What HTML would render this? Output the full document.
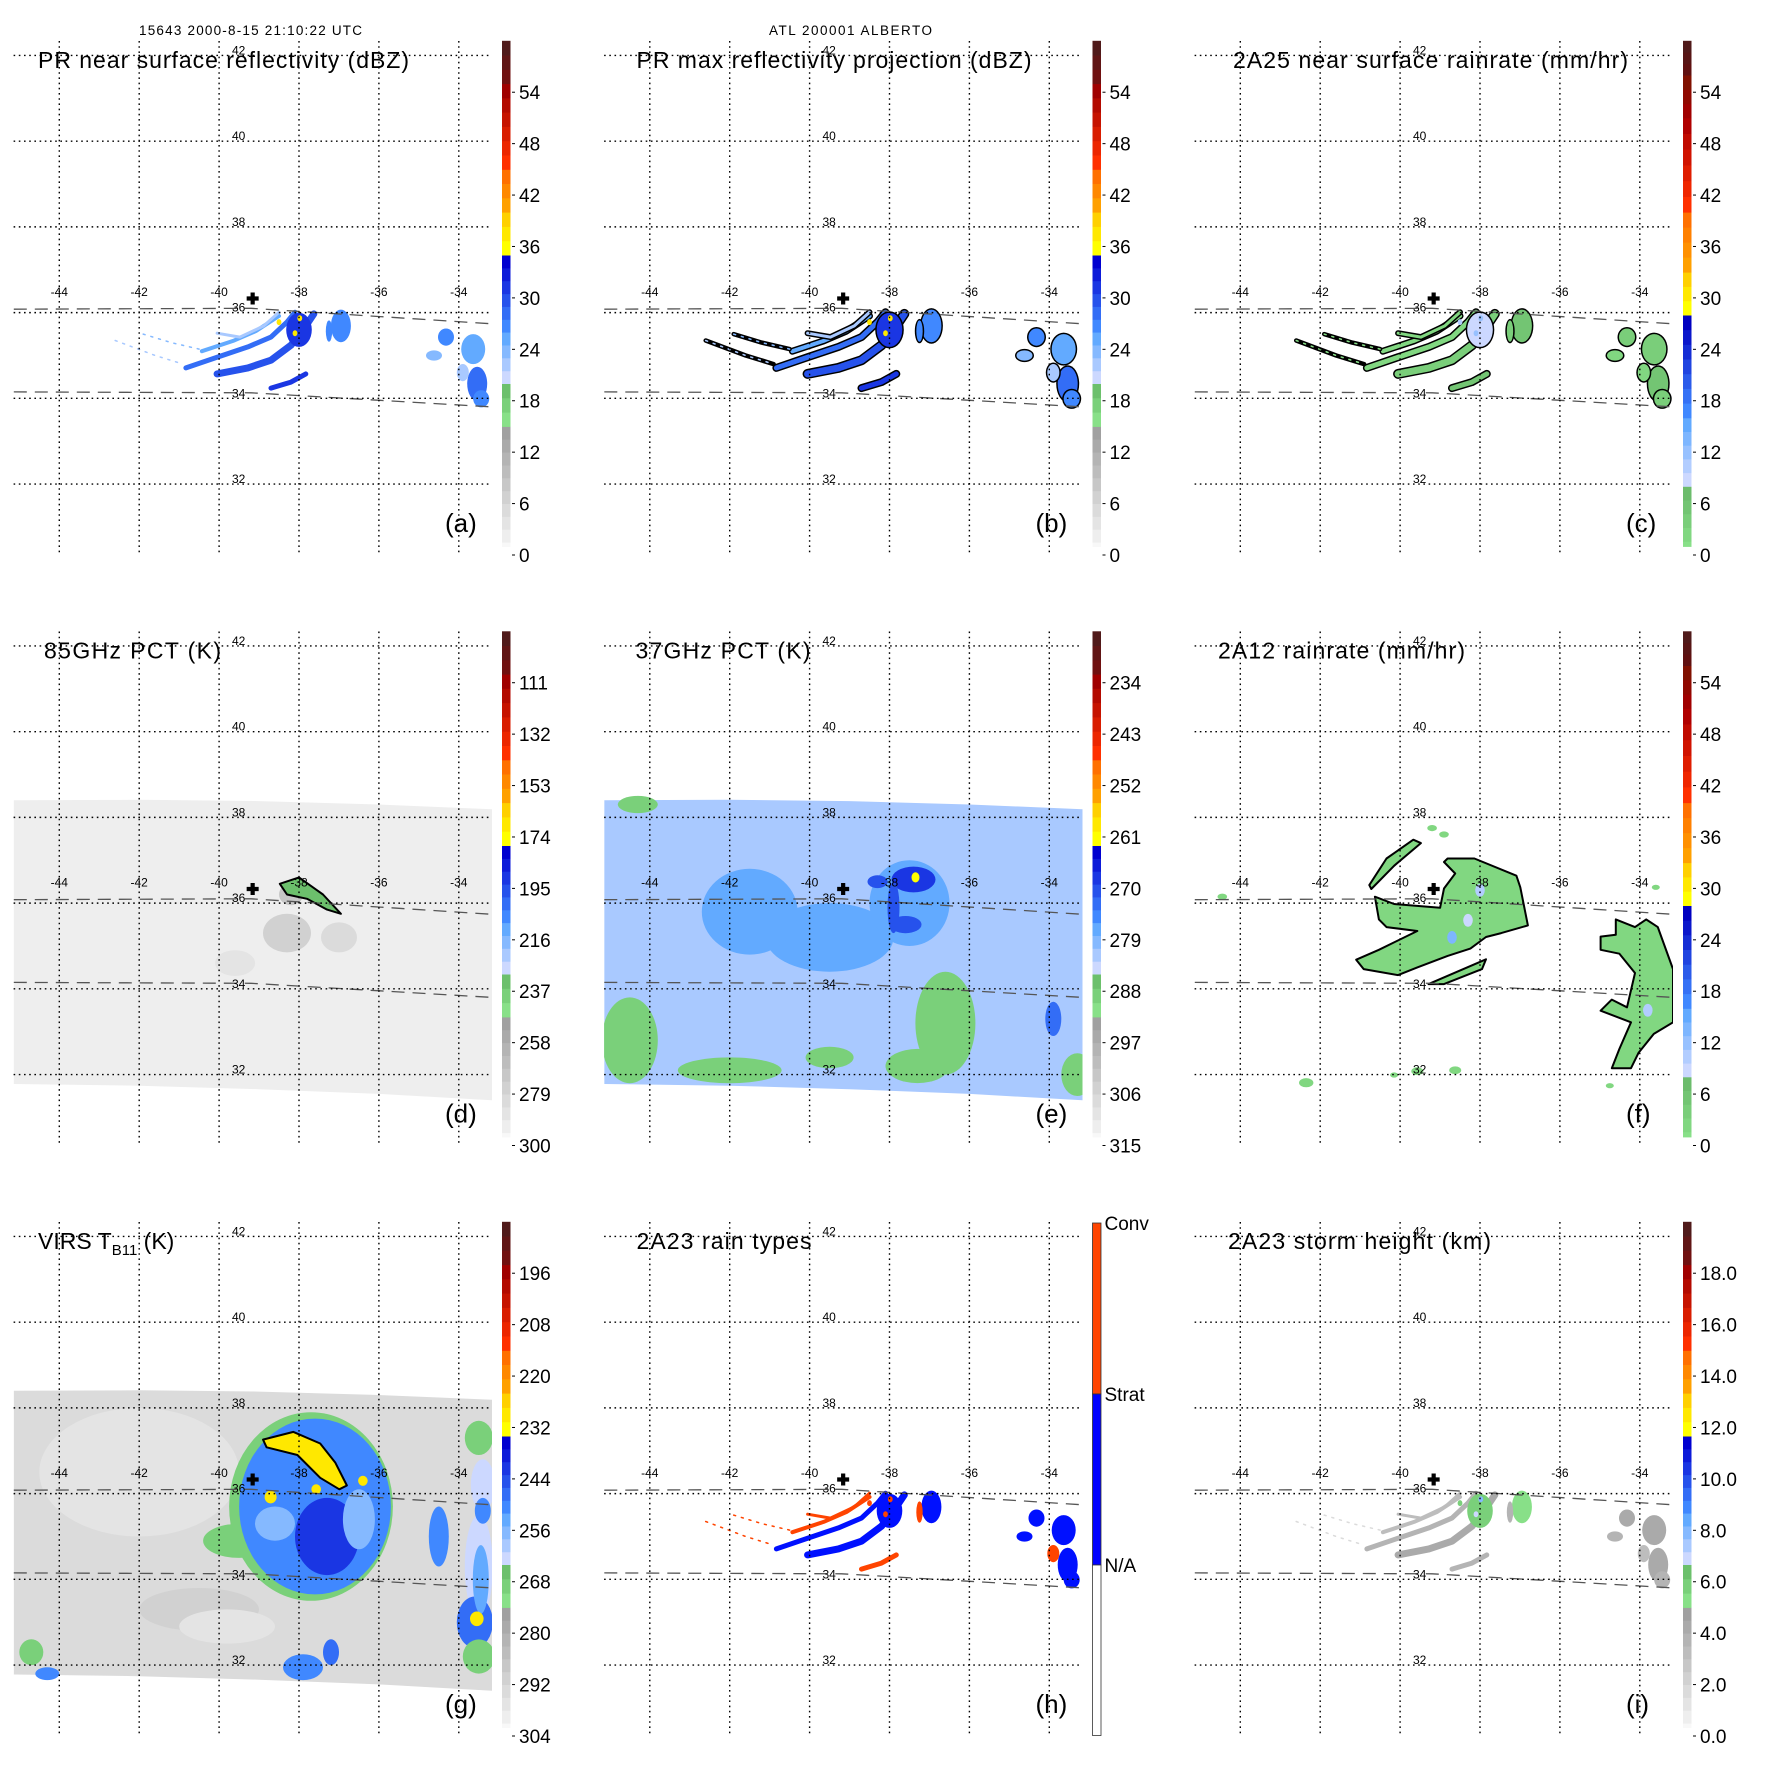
<!DOCTYPE html>
<html><head><meta charset="utf-8"><style>
html,body{margin:0;padding:0;background:#fff}
svg{display:block;font-family:"Liberation Sans",Arial,sans-serif}
</style></head><body>
<svg id="fig" xmlns="http://www.w3.org/2000/svg" width="1771" height="1771" viewBox="0 0 1771 1771">
<rect width="1771" height="1771" fill="#fff"/>
<text x="139" y="35" font-size="13.5" textLength="223">15643 2000-8-15 21:10:22 UTC</text>
<text x="769" y="35" font-size="13.5" textLength="163">ATL 200001 ALBERTO</text>
</svg>
<script>
// ---------- grid / axis data ----------
const lonTicks=[-44,-42,-40,-38,-36,-34];
const latTicks=[42,40,38,36,34,32];
const centerLon=-39.16, centerLat=36.33;
const prSwLon=[-45.14,-39.2,-33.17];
const prSwTop=[36.08,36.10,35.74];
const prSwBot=[34.15,34.13,33.80];
const tmSwLon=[-45.14,-42,-39,-36,-33.17];
const tmSwTop=[38.40,38.41,38.38,38.30,38.19];
const tmSwBot=[31.78,31.74,31.66,31.55,31.40];

// ---------- PR spiral bands (shared geometry for a,b,c,h,i) ----------
const bandLon=[[-38.70,-38.20,-37.83],[-40.05,-39.28,-38.70,-38.20,-37.83,-37.63],[-40.83,-40.05,-39.28,-38.70,-38.30,-38.10],[-40.43,-39.65,-39.08,-38.50],[-40.05,-39.48,-38.88,-38.50],[-42.6,-41.6,-40.9],[-41.9,-41.2,-40.5]];
const bandLat=[[34.24,34.38,34.57],[34.57,34.71,34.89,35.24,35.69,35.97],[34.71,34.96,35.20,35.43,35.78,36.01],[35.10,35.34,35.57,35.92],[35.52,35.43,35.69,36.01],[35.35,35.0,34.8],[35.5,35.3,35.15]];
const bandW=[5,7,5,4,3,1.5,1.5];
const bandValA=[31,30,28,25,22,22,23];
const bandValC=[5,4,3,3,2,1,1];
const bandValH=[2,1,1,2,2,2,2];
const bandValI=[3.8,4.2,3.8,3.3,3.0,1.5,1.5];
const prBlobLon=[-38.0,-37.98,-38.1,-38.5,-36.95,-37.25,-34.32,-33.64,-33.54,-33.44,-34.62,-33.9];
const prBlobLat=[35.6,35.87,35.52,35.78,35.69,35.57,35.43,35.15,34.34,33.99,35.0,34.6];
const prBlobRx=[0.32,0.06,0.06,0.06,0.25,0.08,0.2,0.3,0.25,0.2,0.2,0.15];
const prBlobRy=[0.4,0.07,0.07,0.07,0.38,0.25,0.2,0.35,0.4,0.2,0.12,0.2];
const prBlobValA=[31,37,37,37,27,26,26,25,28,27,24,22];
const prBlobValC=[8,12,12,10,5,4,4,4,5,4,3,3];
const prBlobValH=[1,2,2,2,1,2,1,1,1,1,1,2];
const prBlobValI=[6,8,7,6,5.5,3.5,4,4,4,3.8,3.5,3];

// ---------- 85 GHz (d) ----------
const dLon=[-38.3,-38.2,-37.0,-39.6];
const dLat=[35.3,36.2,35.2,34.6];
const dRx=[0.6,0.3,0.45,0.5];
const dRy=[0.45,0.25,0.35,0.3];
const dVal=[278,270,284,286];
const dPolyLon=[-38.48,-38.0,-37.4,-36.95,-37.3,-37.8,-38.3];
const dPolyLat=[36.45,36.6,36.2,35.75,35.85,36.1,36.2];
const dPolyVal=235;

// ---------- 37 GHz (e) ----------
const eLon=[-39.5,-41.5,-37.5,-36.6,-37.3,-44.5,-42.0,-39.5,-33.3,-44.3,-33.9,-37.4,-37.9,-37.6,-37.35,-38.3];
const eLat=[35.2,35.8,36.0,33.2,32.2,32.8,32.1,32.4,32.0,38.3,33.3,36.55,35.9,35.5,36.6,36.5];
const eRx=[1.6,1.2,1.0,0.75,0.8,0.7,1.3,0.6,0.4,0.5,0.2,0.55,0.15,0.4,0.1,0.25];
const eRy=[0.8,1.0,1.0,1.2,0.4,1.0,0.3,0.25,0.5,0.2,0.4,0.3,0.6,0.2,0.12,0.15];
const eVal=[277,278,278,290,290,290,290,290,290,290,272,268,270,271,261,270];

// ---------- 2A12 (f) ----------
const fMainLon=[-38.81,-38.14,-37.09,-36.99,-36.80,-37.47,-37.85,-38.24,-38.81,-39.57,-40.05,-40.91,-41.10,-40.53,-39.57,-40.34,-40.53,-40.63,-40.15,-39.00,-38.90,-38.62,-38.90];
const fMainLat=[37.04,37.04,36.64,36.37,35.48,35.30,35.21,34.94,34.77,34.50,34.32,34.46,34.68,34.91,35.35,35.44,35.62,36.15,35.98,35.89,36.34,36.69,36.96];
const fArmLon=[-40.72,-40.15,-39.48,-39.67,-40.34,-40.77];
const fArmLat=[36.33,36.87,37.40,37.48,37.04,36.42];
const fLowLon=[-39.29,-37.85,-37.95,-38.90];
const fLowLat=[34.11,34.69,34.46,34.11];
const fRightLon=[-34.60,-34.12,-33.84,-33.55,-33.17,-33.17,-33.65,-34.03,-34.22,-34.70,-34.51,-34.22,-34.98,-34.70,-34.32,-34.12,-34.51,-34.98,-34.98,-34.60];
const fRightLat=[35.62,35.44,35.62,35.44,34.46,33.22,32.95,32.51,32.15,32.15,32.60,33.22,33.49,33.75,33.57,34.37,34.82,34.91,35.22,35.26];
const fBitLon=[-42.35,-40.15,-39.57,-38.62,-34.75,-44.45,-33.6,-39.2,-38.9];
const fBitLat=[31.81,31.99,32.08,32.10,31.74,36.15,36.37,37.75,37.6];
const fBitR=[0.18,0.1,0.15,0.15,0.1,0.12,0.1,0.12,0.12];
const fSpotLon=[-38.0,-38.7,-33.8,-38.3];
const fSpotLat=[36.3,35.2,33.5,35.6];
const fSpotVal=[10,14,11,9];

// ---------- VIRS (g) ----------
const gLon=[-42.0,-40.5,-39.8,-37.7,-39.5,-37.6,-37.3,-38.6,-36.5,-33.5,-33.4,-34.5,-33.5,-33.6,-33.5,-37.9,-37.2,-44.7,-44.3,-33.45,-33.4];
const gLat=[36.5,33.3,32.9,35.7,34.9,35.7,35.0,35.3,35.4,37.3,36.2,35.0,34.3,33.0,32.2,31.95,32.3,32.3,31.8,34.0,35.6];
const gRx=[2.5,1.5,1.2,2.05,0.9,1.9,0.8,0.5,0.4,0.35,0.3,0.25,0.35,0.45,0.4,0.5,0.2,0.3,0.3,0.2,0.2];
const gRy=[1.5,0.5,0.4,2.2,0.4,2.05,0.9,0.4,0.7,0.4,0.6,0.7,1.2,0.6,0.4,0.3,0.3,0.3,0.15,0.8,0.3];
const gVal=[296,290,296,268,268,250,242,256,256,268,262,252,262,248,268,250,248,268,250,254,250];
const gCdoLon=[-38.90,-38.14,-37.47,-37.09,-36.80,-36.99,-37.47,-38.04,-38.81];
const gCdoLat=[37.26,37.44,37.17,36.72,36.19,36.10,36.37,36.90,37.08];
const gCoreLon=[-37.57,-38.71,-33.55,-36.4];
const gCoreLat=[36.1,35.92,33.08,36.3];
const gCoreR=[0.12,0.15,0.17,0.12];
const gTBcore=230;

// ---------- colorbar labels ----------
const lblRefl=['0','6','12','18','24','30','36','42','48','54'];
const lbl85=['300','279','258','237','216','195','174','153','132','111'];
const lbl37=['315','306','297','288','279','270','261','252','243','234'];
const lblVirs=['304','292','280','268','256','244','232','220','208','196'];
const lblHt=['0.0','2.0','4.0','6.0','8.0','10.0','12.0','14.0','16.0','18.0'];

// ---------- helpers ----------
const NS='http://www.w3.org/2000/svg';
const svg=document.getElementById('fig');
function mk(tag,attrs,parent){const e=document.createElementNS(NS,tag);for(const k in attrs)e.setAttribute(k,attrs[k]);parent.appendChild(e);return e;}
function X(lon){return 59.3+(lon+44)*39.95;}
function Y(lat){return 55.4+(42-lat)*42.87;}
function Yc(v){return 555-v*8.57;}
function hex(c){return [parseInt(c.substr(1,2),16),parseInt(c.substr(3,2),16),parseInt(c.substr(5,2),16)];}
function mix(a,b,t){const A=hex(a),B=hex(b);return 'rgb('+A.map((x,i)=>Math.round(x+(B[i]-x)*t)).join(',')+')';}
function bands(segs){const out=[];segs.forEach(s=>{for(let i=0;i<s[4];i++){const t=s[4]>1?i/(s[4]-1):0;out.push({v0:s[0]+(s[1]-s[0])*i/s[4],v1:s[0]+(s[1]-s[0])*(i+1)/s[4],c:mix(s[2],s[3],t)});}});return out;}
const REFL=bands([[0,15,'#f8f8f8','#a0a0a0',10],[15,20,'#88e088','#6cc06c',3],[20,26,'#ccd8ff','#62aaff',4],[26,35,'#4088ff','#0000d0',6],[35,40,'#ffff00','#ffd000',3],[40,45,'#ffa000','#ff7000',3],[45,55,'#ff3000','#a00000',6],[55,60,'#701010','#501a1a',3]]);
const RAIN=bands([[0,8,'#88e088','#6cbc6c',5],[8,16,'#ccd8ff','#62aaff',5],[16,28,'#4088ff','#0000c0',7],[28,33,'#ffff00','#ffd000',3],[33,40,'#ffa000','#ff7000',4],[40,51,'#ff3000','#b00000',6],[51,56,'#a00000','#801000',3],[56,60,'#601010','#501a1a',3]]);
function cm(v,B){for(const b of B){if(v<b.v1)return b.c;}return B[B.length-1].c;}
const toV={a:v=>v,c:v=>v,d:k=>(300-k)*6/21,e:k=>(315-k)*6/9,g:k=>(304-k)/2,i:h=>h*3};
function smoothPts(lons,lats){return lons.map((l,i)=>X(l).toFixed(1)+','+Y(lats[i]).toFixed(1)).join(' ');}

function drawColorbar(g,B,labels){
  const cb=mk('g',{},g);
  
  
  B.forEach(b=>{const y1=Yc(b.v1),y0=Math.min(Yc(b.v0),546.5);if(y0>y1)mk('rect',{x:502,y:y1.toFixed(1),width:8.5,height:(y0-y1+0.4).toFixed(1),fill:b.c},cb);});
  labels.forEach((t,i)=>{const y=Yc(i*6);
    mk('line',{x1:512,x2:515,y1:y,y2:y,stroke:'#000','stroke-width':1},cb);
    const tx=mk('text',{x:519,y:(y+7).toFixed(1),'font-size':19},cb);tx.textContent=t;
    
    });
}
function blobs(g,lons,lats,rxs,rys,vals,map,B){
  lons.forEach((l,i)=>{const e=mk('ellipse',{cx:X(l).toFixed(1),cy:Y(lats[i]).toFixed(1),rx:(rxs[i]*39.95).toFixed(1),ry:(rys[i]*42.87).toFixed(1),fill:cm(map(vals[i]),B)},g);
    
    });
}
function poly(g,lons,lats,fill,outline){const p=mk('polygon',{points:smoothPts(lons,lats),fill:fill,stroke:outline?'#000':'none','stroke-width':2,'stroke-linejoin':'round'},g);
  
  return p;}
function prField(g,bandVals,blobVals,colorFn,outline){
  bandLon.forEach((bl,i)=>{const pts=smoothPts(bl,bandLat[i]);
    if(outline)mk('polyline',{points:pts,fill:'none',stroke:'#000','stroke-width':bandW[i]+3,'stroke-linecap':'round','stroke-linejoin':'round'},g);
    const pl=mk('polyline',{points:pts,fill:'none',stroke:colorFn(bandVals[i]),'stroke-width':bandW[i],'stroke-linecap':'round','stroke-linejoin':'round','stroke-dasharray':i>=5?'2,6':'none'},g);
    
    });
  prBlobLon.forEach((l,i)=>{const a={cx:X(l).toFixed(1),cy:Y(prBlobLat[i]).toFixed(1),rx:(prBlobRx[i]*39.95).toFixed(1),ry:(prBlobRy[i]*42.87).toFixed(1)};
    if(outline&&prBlobRx[i]>0.07){const o=Object.assign({},a,{fill:'#000'});o.rx=(+a.rx+1.5);o.ry=(+a.ry+1.5);mk('ellipse',o,g);}
    const e=mk('ellipse',Object.assign(a,{fill:colorFn(blobVals[i])}),g);
    
    });
}

const titles=[['PR near surface reflectivity (dBZ)',38,371],['PR max reflectivity projection (dBZ)',46,395],['2A25 near surface rainrate (mm/hr)',52,395],['85GHz PCT (K)',44,177],['37GHz PCT (K)',45,175],['2A12 rainrate (mm/hr)',37,247],['VIRS',38,148],['2A23 rain types',46,175],['2A23 storm height (km)',47,263]];
const letters=['(a)','(b)','(c)','(d)','(e)','(f)','(g)','(h)','(i)'];
const names=['pr-near-surface-reflectivity','pr-max-reflectivity','pr-2a25-rainrate','tmi-85ghz-pct','tmi-37ghz-pct','tmi-2a12-rainrate','virs-tb11','pr-2a23-rain-types','pr-2a23-storm-height'];

for(let p=0;p<9;p++){
  const c=p%3,r=Math.floor(p/3);
  const g=mk('g',{transform:'translate('+(590.5*c)+','+(590.5*r)+')'},svg);
  
  
  const cid='clip'+p;
  const cp=mk('clipPath',{id:cid},g);mk('rect',{x:13.6,y:40,width:478.4,height:514},cp);
  const data=mk('g',{'clip-path':'url(#'+cid+')'},g);
  
  
  const tmSw=tmSwLon.map((l,i)=>X(l).toFixed(1)+','+Y(tmSwTop[i]).toFixed(1)).join(' ')+' '+tmSwLon.slice().reverse().map((l,i)=>X(l).toFixed(1)+','+Y(tmSwBot[tmSwLon.length-1-i]).toFixed(1)).join(' ');
  if(p===0||p===1){prField(data,bandValA,prBlobValA,v=>cm(v,REFL),p===1);}
  if(p===2){prField(data,bandValC,prBlobValC,v=>cm(v,RAIN),true);}
  if(p===7){prField(data,bandValH,prBlobValH,v=>v===2?'#ff4400':'#0010ff',false);}
  if(p===8){prField(data,bandValI,prBlobValI,v=>cm(toV.i(v),REFL),false);}
  if(p===3){const s=mk('polygon',{points:tmSw,fill:cm(toV.d(291),REFL)},data);
    blobs(data,dLon,dLat,dRx,dRy,dVal,toV.d,REFL);poly(data,dPolyLon,dPolyLat,cm(toV.d(dPolyVal),REFL),true);}
  if(p===4){const s=mk('polygon',{points:tmSw,fill:cm(toV.e(281),REFL)},data);
    blobs(data,eLon,eLat,eRx,eRy,eVal,toV.e,REFL);}
  if(p===5){const gr=cm(3,RAIN);poly(data,fMainLon,fMainLat,gr,true);poly(data,fArmLon,fArmLat,gr,true);poly(data,fLowLon,fLowLat,gr,true);poly(data,fRightLon,fRightLat,gr,true);
    blobs(data,fBitLon,fBitLat,fBitR,fBitR.map(v=>v*0.6),fBitLon.map(()=>3),toV.c,RAIN);
    blobs(data,fSpotLon,fSpotLat,fSpotLon.map(()=>0.12),fSpotLon.map(()=>0.15),fSpotVal,toV.c,RAIN);}
  if(p===6){const s=mk('polygon',{points:tmSw,fill:cm(toV.g(293),REFL)},data);
    blobs(data,gLon,gLat,gRx,gRy,gVal,toV.g,REFL);
    poly(data,gCdoLon,gCdoLat,cm(toV.g(gTBcore),REFL),true);
    blobs(data,gCoreLon,gCoreLat,gCoreR,gCoreR,gCoreLon.map(()=>gTBcore),toV.g,REFL);}
  // swath edges
  [prSwTop,prSwBot].forEach(arr=>{const l=mk('polyline',{points:smoothPts(prSwLon,arr),fill:'none',stroke:'#555','stroke-width':1.3,'stroke-dasharray':'13,8'},g);
    });
  // grid
  const grid=mk('g',{stroke:'#000','stroke-width':1.4,'stroke-dasharray':'1.6,3.6'},g);
  
  
  lonTicks.forEach(l=>{mk('line',{x1:X(l),x2:X(l),y1:41,y2:554},grid);});
  latTicks.forEach(l=>{mk('line',{x1:13.6,x2:492,y1:Y(l),y2:Y(l)},grid);});
  lonTicks.forEach(l=>{const t=mk('text',{x:X(l),y:296,'font-size':12,'text-anchor':'middle'},g);t.textContent=String(l);
    });
  latTicks.forEach(l=>{const t=mk('text',{x:232,y:Y(l)-1,'font-size':12},g);t.textContent=String(l);
    });
  // storm center
  const cx=X(centerLon),cy=Y(centerLat);
  const cr=mk('path',{d:'M'+(cx-6)+','+cy+'H'+(cx+6)+'M'+cx+','+(cy-6)+'V'+(cy+6),stroke:'#000','stroke-width':4.2},g);
  
  
  // title
  const tt=mk('text',{x:titles[p][1],y:68,'font-size':23},g);
  
  
  if(p===6){tt.textContent='VIRS T';const s=mk('tspan',{'font-size':15,dy:6},tt);s.textContent='B11';const s2=mk('tspan',{dy:-6},tt);s2.textContent=' (K)';}
  else{tt.textContent=titles[p][0];tt.setAttribute('textLength',titles[p][2]);}
  const lt=mk('text',{x:445,y:532,'font-size':26},g);lt.textContent=letters[p];
  
  
  // colorbar
  if(p===0||p===1)drawColorbar(g,REFL,lblRefl);
  if(p===2||p===5)drawColorbar(g,RAIN,lblRefl);
  if(p===3)drawColorbar(g,REFL,lbl85);
  if(p===4)drawColorbar(g,REFL,lbl37);
  if(p===6)drawColorbar(g,REFL,lblVirs);
  if(p===8)drawColorbar(g,REFL,lblHt);
  if(p===7){const cb=mk('g',{},g);
    
    
    mk('rect',{x:502,y:42,width:8.5,height:171,fill:'#ff4400',stroke:'#333','stroke-width':0.8},cb);
    mk('rect',{x:502,y:213,width:8.5,height:171,fill:'#0000ff',stroke:'#333','stroke-width':0.8},cb);
    mk('rect',{x:502,y:384,width:8.5,height:170.5,fill:'#fff',stroke:'#333','stroke-width':0.8},cb);
    [['Conv',42],['Strat',213],['N/A',384]].forEach(a=>{const t=mk('text',{x:514,y:a[1]+7,'font-size':19},cb);t.textContent=a[0];
      });}
}
</script>
</body></html>
